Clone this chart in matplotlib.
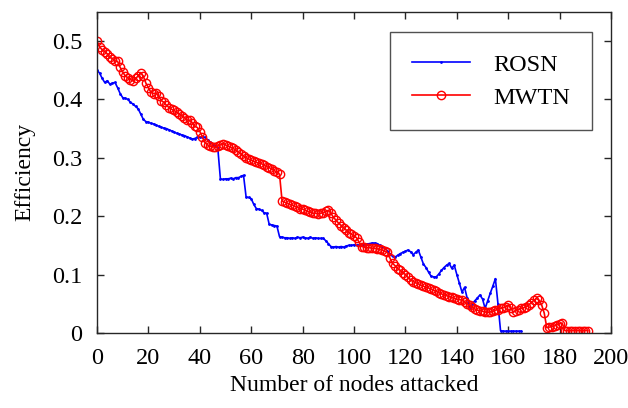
import numpy as np
import matplotlib
matplotlib.use('Agg')
import matplotlib.pyplot as plt

plt.rcParams['font.family'] = ['Liberation Serif', 'DejaVu Serif']

# Efficiency after each attacked node
rosn = [0.450, 0.445, 0.436, 0.429, 0.432, 0.426, 0.428, 0.429, 0.420, 0.410,
        0.403, 0.402, 0.400, 0.395, 0.392, 0.388, 0.384, 0.375, 0.366, 0.362,
        0.361, 0.359, 0.358, 0.356, 0.354, 0.352, 0.351, 0.350, 0.348, 0.346,
        0.344, 0.342, 0.341, 0.339, 0.338, 0.336, 0.334, 0.332, 0.333, 0.335,
        0.335, 0.336, 0.335, 0.331, 0.327, 0.324, 0.320, 0.316, 0.264, 0.263,
        0.264, 0.264, 0.265, 0.264, 0.266, 0.266, 0.268, 0.270, 0.233, 0.232,
        0.230, 0.220, 0.213, 0.212, 0.210, 0.206, 0.205, 0.186, 0.185, 0.184,
        0.183, 0.165, 0.164, 0.163, 0.163, 0.162, 0.163, 0.162, 0.164, 0.163,
        0.164, 0.163, 0.162, 0.164, 0.162, 0.163, 0.162, 0.162, 0.162, 0.158,
        0.153, 0.148, 0.147, 0.148, 0.147, 0.148, 0.147, 0.149, 0.150, 0.150,
        0.151, 0.150, 0.151, 0.150, 0.151, 0.152, 0.153, 0.154, 0.154, 0.153,
        0.150, 0.148, 0.146, 0.140, 0.135, 0.131, 0.130, 0.133, 0.136, 0.138,
        0.140, 0.142, 0.139, 0.134, 0.138, 0.142, 0.130, 0.118, 0.112, 0.104,
        0.097, 0.096, 0.096, 0.101, 0.107, 0.112, 0.116, 0.119, 0.111, 0.116,
        0.100, 0.085, 0.070, 0.078, 0.060, 0.045, 0.050, 0.055, 0.060, 0.065,
        0.058, 0.042, 0.055, 0.068, 0.080, 0.093, 0.050, 0.004, 0.003, 0.003,
        0.003, 0.003, 0.003, 0.003, 0.003, 0.003]

mwtn = [0.500, 0.490, 0.485, 0.482, 0.478, 0.472, 0.470, 0.466, 0.465, 0.455,
        0.447, 0.440, 0.437, 0.434, 0.432, 0.436, 0.440, 0.446, 0.440, 0.428,
        0.420, 0.412, 0.410, 0.411, 0.405, 0.398, 0.395, 0.390, 0.386, 0.383,
        0.381, 0.378, 0.375, 0.372, 0.369, 0.365, 0.364, 0.360, 0.354, 0.352,
        0.345, 0.336, 0.326, 0.322, 0.320, 0.319, 0.318, 0.320, 0.322, 0.324,
        0.322, 0.320, 0.318, 0.316, 0.313, 0.310, 0.307, 0.303, 0.300, 0.298,
        0.296, 0.294, 0.292, 0.291, 0.290, 0.287, 0.285, 0.283, 0.281, 0.278,
        0.275, 0.272, 0.226, 0.224, 0.222, 0.220, 0.219, 0.217, 0.215, 0.213,
        0.212, 0.210, 0.208, 0.207, 0.205, 0.205, 0.204, 0.205, 0.206, 0.208,
        0.210, 0.205, 0.198, 0.193, 0.188, 0.184, 0.180, 0.176, 0.172, 0.169,
        0.166, 0.163, 0.155, 0.148, 0.147, 0.146, 0.146, 0.145, 0.145, 0.144,
        0.143, 0.142, 0.140, 0.138, 0.128, 0.119, 0.115, 0.110, 0.107, 0.103,
        0.100, 0.095, 0.091, 0.088, 0.086, 0.084, 0.082, 0.080, 0.078, 0.077,
        0.075, 0.073, 0.071, 0.069, 0.067, 0.065, 0.064, 0.062, 0.061, 0.059,
        0.058, 0.057, 0.056, 0.053, 0.050, 0.047, 0.044, 0.041, 0.039, 0.038,
        0.037, 0.036, 0.035, 0.036, 0.037, 0.039, 0.040, 0.042, 0.043, 0.045,
        0.048, 0.042, 0.036, 0.038, 0.040, 0.042, 0.043, 0.045, 0.048, 0.052,
        0.056, 0.059, 0.056, 0.048, 0.034, 0.009, 0.010, 0.011, 0.012, 0.014,
        0.016, 0.017, 0.004, 0.004, 0.004, 0.004, 0.004, 0.004, 0.004, 0.004,
        0.004, 0.004]

x_ticks = [0, 20, 40, 60, 80, 100, 120, 140, 160, 180, 200]
y_ticks = [0, 0.1, 0.2, 0.3, 0.4, 0.5]
y_ticklabels = ['0', '0.1', '0.2', '0.3', '0.4', '0.5']

fig = plt.figure(figsize=(6.28, 4.08), dpi=100)
ax = fig.add_axes([0.1545, 0.184, 0.8185, 0.787])

ax.plot(np.arange(len(rosn)), rosn, color='blue', lw=1.2, marker='.',
        markersize=2, label='ROSN')
ax.plot(np.arange(len(mwtn)), mwtn, color='red', lw=1.2, marker='o',
        markersize=6, markerfacecolor='none', markeredgewidth=1.0, label='MWTN')

ax.set_xlim(0, 200)
ax.set_ylim(0, 0.55)
ax.set_xticks(x_ticks)
ax.set_yticks(y_ticks)
ax.set_yticklabels(y_ticklabels)
ax.tick_params(direction='in', length=5, labelsize=17.5, top=True, right=True,
               color='0.15', width=1, pad=10.5)
for s in ax.spines.values():
    s.set_color('0.15')
    s.set_linewidth(1)

ax.set_xlabel('Number of nodes attacked', fontsize=17, labelpad=5)
ax.set_ylabel('Efficiency', fontsize=17, labelpad=12)

leg = ax.legend(loc='upper right', bbox_to_anchor=(0.963, 0.938), fontsize=17.5,
                handlelength=2.4, borderpad=0.9, labelspacing=0.45,
                handletextpad=0.95, borderaxespad=0, fancybox=False)
leg.get_frame().set_edgecolor('0.15')
leg.get_frame().set_linewidth(1)

plt.savefig('out.png', dpi=100)
